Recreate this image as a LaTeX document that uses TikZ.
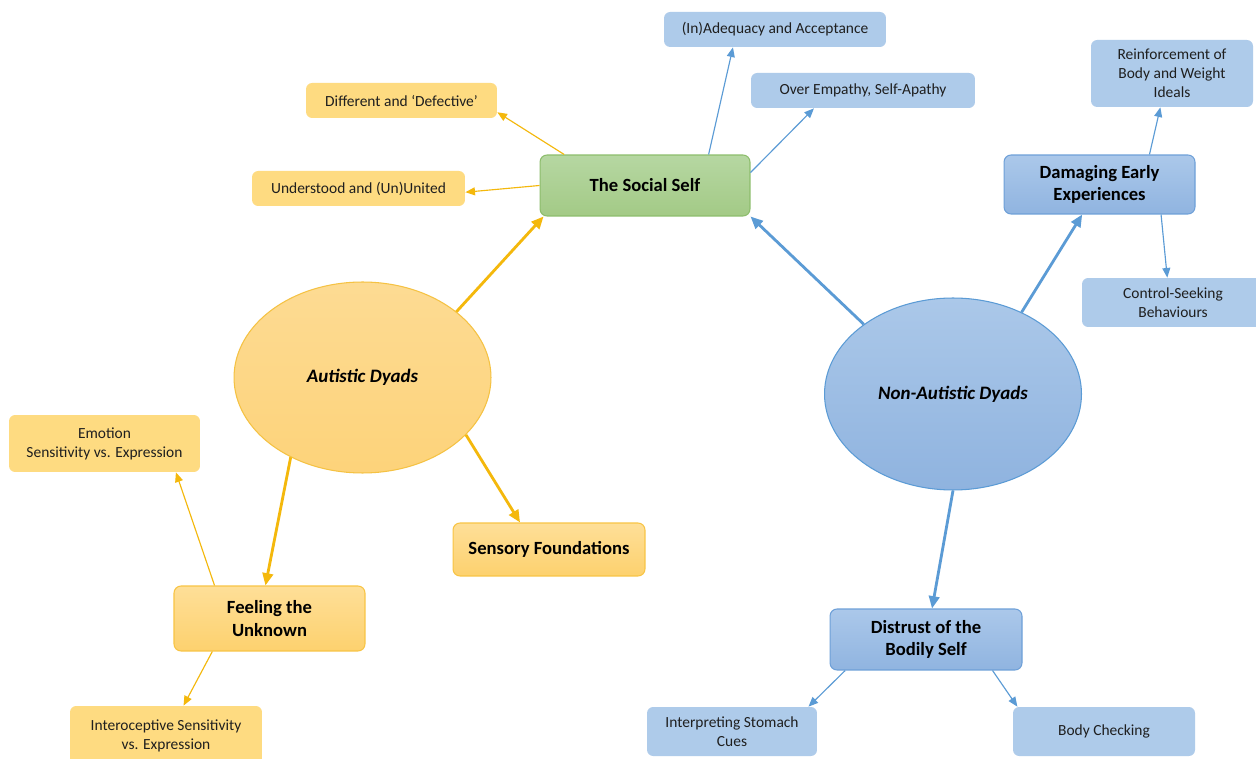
\documentclass[tikz,border=0pt]{standalone}
\usepackage{fontspec}
\setmainfont{Carlito}
\usetikzlibrary{arrows.meta,shapes.geometric}
\definecolor{ysubc}{HTML}{FEDB81}
\definecolor{bsubc}{HTML}{AECBEA}
\definecolor{lineY}{HTML}{F4B80C}
\definecolor{lineB}{HTML}{5B9BD5}
\definecolor{gT}{HTML}{B6D7A2}
\definecolor{gB}{HTML}{A3CA86}
\definecolor{gD}{HTML}{8DBD6C}
\definecolor{bT}{HTML}{ABC8EA}
\definecolor{bB}{HTML}{90B4E0}
\definecolor{bD}{HTML}{6EA0D8}
\definecolor{yT}{HTML}{FEDF98}
\definecolor{yB}{HTML}{FDD16E}
\definecolor{yD}{HTML}{F8C444}
\definecolor{eyT}{HTML}{FDDB93}
\definecolor{eyB}{HTML}{FDD37A}
\definecolor{eyD}{HTML}{F5C243}
\definecolor{ebT}{HTML}{ABC8E9}
\definecolor{ebB}{HTML}{8FB3DF}
\definecolor{ebD}{HTML}{5B9BD5}
\begin{document}
\begin{tikzpicture}[x=0.02cm,y=-0.02cm,
  sub/.style={rectangle, rounded corners=3.5pt, inner sep=0pt, align=center,
    font=\fontsize{8.8}{10.8}\selectfont, text=black!88},
  ysub/.style={sub, fill=ysubc},
  bsub/.style={sub, fill=bsubc},
  mainbox/.style={rectangle, rounded corners=4pt, inner sep=0pt, align=center,
    font=\fontsize{10.6}{13}\selectfont\bfseries, draw, line width=0.6pt},
  ymain/.style={mainbox, draw=yD, top color=yT, bottom color=yB},
  bmain/.style={mainbox, draw=bD, top color=bT, bottom color=bB},
  gmain/.style={mainbox, draw=gD, top color=gT, bottom color=gB},
  dyad/.style={ellipse, inner sep=0pt, line width=0.6pt,
    font=\fontsize{10.8}{13}\selectfont\bfseries\itshape},
  thickY/.style={draw=lineY, line width=1.6pt, -{Triangle[length=7pt,width=6pt]}},
  thickB/.style={draw=lineB, line width=1.6pt, -{Triangle[length=7pt,width=6pt]}},
  thinY/.style={draw=lineY, line width=0.65pt, -{Triangle[length=5.5pt,width=4.5pt]}},
  thinB/.style={draw=lineB, line width=0.65pt, -{Triangle[length=5.5pt,width=4.5pt]}},
]
\clip (0,0) rectangle (1256,759);
\fill[white] (0,0) rectangle (1256,759);

% dyads
\node[dyad, draw=eyD, top color=eyT, bottom color=eyB, minimum width=5.14cm, minimum height=3.82cm] (aut) at (362.5,377.5) {Autistic Dyads};
\node[dyad, draw=ebD, top color=ebT, bottom color=ebB, minimum width=5.14cm, minimum height=3.84cm] (non) at (953,394) {Non-Autistic Dyads};

% main themes
\node[gmain, minimum width=4.2cm, minimum height=1.22cm] (social) at (645,185.5) {The Social Self};
\node[bmain, minimum width=3.82cm, minimum height=1.18cm] (dam) at (1099.5,184.5) {Damaging Early\\Experiences};
\node[bmain, minimum width=3.84cm, minimum height=1.22cm] (distr) at (926,639.5) {Distrust of the\\Bodily Self};
\node[ymain, minimum width=3.82cm, minimum height=1.30cm] (feel) at (269.5,618.5) {Feeling the\\Unknown};
\node[ymain, minimum width=3.84cm, minimum height=1.06cm] (sens) at (549,549.5) {Sensory Foundations};

% sub themes
\node[bsub, minimum width=4.44cm, minimum height=0.70cm] (inad) at (775,29.5) {(In)Adequacy and Acceptance};
\node[bsub, minimum width=4.48cm, minimum height=0.70cm] (over) at (863,90.5) {Over Empathy, Self-Apathy};
\node[ysub, minimum width=3.82cm, minimum height=0.70cm] (diff) at (401.5,100.5) {Different and ‘Defective’};
\node[ysub, minimum width=4.26cm, minimum height=0.70cm] (und) at (358.5,188.5) {Understood and (Un)United};
\node[bsub, minimum width=3.24cm, minimum height=1.34cm] (reinf) at (1172,73.5) {Reinforcement of\\Body and Weight\\Ideals};
\node[bsub, minimum width=3.64cm, minimum height=0.98cm] (ctrl) at (1173,302.5) {Control-Seeking\\Behaviours};
\node[ysub, minimum width=3.82cm, minimum height=1.14cm] (emo) at (104.5,443.5) {Emotion\\Sensitivity vs. Expression};
\node[ysub, minimum width=3.84cm, minimum height=1.20cm] (intero) at (166,736) {Interoceptive Sensitivity\\vs. Expression};
\node[bsub, minimum width=3.40cm, minimum height=0.98cm] (interp) at (732,731.5) {Interpreting Stomach\\Cues};
\node[bsub, minimum width=3.64cm, minimum height=0.98cm] (body) at (1104,731.5) {Body Checking};

% thick connectors
\draw[thickY] (aut.35) -- (social.197);
\draw[thickY] (aut.-132.4) -- (feel.97);
\draw[thickY] (aut.-29.5) -- (sens.137);
\draw[thickB] (non.142.8) -- (social.south east);
\draw[thickB] (non.50) -- (dam.-120);
\draw[thickB] (non.south) -- (distr.79);

% thin connectors
\draw[thinY] (social.159) -- (diff.-7);
\draw[thinY] (social.west) -- (und.-2);
\draw[thinB] (social.26.6) -- (inad.203);
\draw[thinB] (social.7.3) -- (over.200);
\draw[thinB] (dam.31.3) -- (reinf.251);
\draw[thinB] (dam.-26.4) -- (ctrl.103);
\draw[thinY] (feel.149) -- (emo.-22.7);
\draw[thinY] (feel.210) -- (intero.60);
\draw[thinB] (distr.201.5) -- (interp.18);
\draw[thinB] (distr.-25.9) -- (body.164);
\end{tikzpicture}
\end{document}
